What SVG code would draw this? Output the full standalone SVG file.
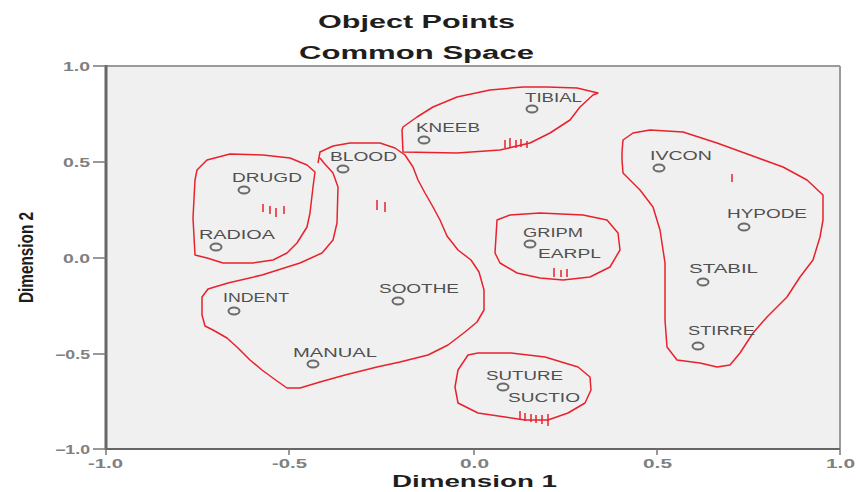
<svg xmlns="http://www.w3.org/2000/svg" width="856" height="492" viewBox="0 0 856 492">
<style>
.title{font-family:"Liberation Sans",Arial,sans-serif;font-weight:bold;font-size:18px;fill:#1e1e1e}
.tick{font-family:"Liberation Sans",Arial,sans-serif;font-weight:bold;font-size:12px;fill:#808080}
.lbl{font-family:"Liberation Sans",Arial,sans-serif;font-size:12px;fill:#505050}
.axl{font-family:"Liberation Sans",Arial,sans-serif;font-weight:bold;font-size:16px;fill:#1e1e1e}
.pt{fill:none;stroke:#6a6a6a;stroke-width:2}
.hull{fill:none;stroke:#e8222c;stroke-width:1.5;stroke-linejoin:round}
.mark{stroke:#e8222c;stroke-width:1.5}
</style>
<rect width="856" height="492" fill="#fff"/>
<g id="plot">
<rect x="106" y="66" width="734" height="383" fill="#f0f0f0"/>
<line x1="106" y1="66" x2="840" y2="66" stroke="#9a9a9a" stroke-width="2"/>
<line x1="840" y1="66" x2="840" y2="449" stroke="#9a9a9a" stroke-width="2"/>
<line x1="106" y1="65" x2="106" y2="450" stroke="#666" stroke-width="3"/>
<line x1="105" y1="449" x2="840" y2="449" stroke="#666" stroke-width="2"/>
<g stroke="#777" stroke-width="1.5">
<line x1="93" y1="66" x2="106" y2="66"/><line x1="93" y1="162" x2="106" y2="162"/><line x1="93" y1="258" x2="106" y2="258"/><line x1="93" y1="354" x2="106" y2="354"/><line x1="93" y1="449" x2="106" y2="449"/>
<line x1="106" y1="449" x2="106" y2="455"/><line x1="289" y1="449" x2="289" y2="455"/><line x1="474" y1="449" x2="474" y2="455"/><line x1="657" y1="449" x2="657" y2="455"/><line x1="840" y1="449" x2="840" y2="455"/>
</g>
<g class="tick">
<text x="63" y="71" textLength="27" lengthAdjust="spacingAndGlyphs">1.0</text>
<text x="63" y="167" textLength="27" lengthAdjust="spacingAndGlyphs">0.5</text>
<text x="63" y="263" textLength="27" lengthAdjust="spacingAndGlyphs">0.0</text>
<text x="55" y="359" textLength="35" lengthAdjust="spacingAndGlyphs">−0.5</text>
<text x="55" y="454" textLength="35" lengthAdjust="spacingAndGlyphs">−1.0</text>
<text x="88" y="468" textLength="35" lengthAdjust="spacingAndGlyphs">-1.0</text>
<text x="272" y="468" textLength="35" lengthAdjust="spacingAndGlyphs">-0.5</text>
<text x="460" y="468" textLength="29" lengthAdjust="spacingAndGlyphs">0.0</text>
<text x="643" y="468" textLength="29" lengthAdjust="spacingAndGlyphs">0.5</text>
<text x="826" y="468" textLength="29" lengthAdjust="spacingAndGlyphs">1.0</text>
</g>
</g>
<g id="titles">
<text class="title" x="318" y="28" textLength="197" lengthAdjust="spacingAndGlyphs">Object Points</text>
<text class="title" x="299" y="59" textLength="235" lengthAdjust="spacingAndGlyphs">Common Space</text>
<text class="axl" x="392" y="487" textLength="165" lengthAdjust="spacingAndGlyphs">Dimension 1</text>
<text class="axl" transform="translate(33,303) scale(1.5,1) rotate(-90)" textLength="91" lengthAdjust="spacingAndGlyphs" style="font-size:14px">Dimension 2</text>
</g>
<g id="connectors">
<path id="hull-drugd" class="hull" d="M197,170 L207,160 L230,154 L263,155 L290,158 L307,165 L315,172 L313,187 L310,213 L307,227 L297,243 L287,253 L273,260 L253,263 L223,263 L207,258 L195,255 L193,218 L195,180 Z"/>
<path id="hull-blood" class="hull" d="M318,163 L320,152 L333,146 L350,143 L380,143 L395,148 L405,155 L413,167 L418,180 L425,193 L433,207 L440,220 L447,236 L458,250 L471,260 L479,272 L484,290 L484,310 L477,322 L465,332 L448,345 L428,355 L400,362 L377,367 L345,375 L320,382 L300,388 L287,388 L277,381 L262,370 L250,360 L238,348 L227,338 L213,330 L205,326 L202,315 L202,297 L208,289 L228,283 L262,275 L300,263 L322,253 L333,240 L337,223 L338,187 L333,173 L324,163 L320,158"/>
<path id="hull-kneeb" class="hull" d="M402,130 L403,152 L457,153 L500,150 L530,143 L550,133 L570,120 L580,107 L593,95 L598,93 L577,88 L547,87 L523,87 L490,90 L457,97 L433,107 L417,117 L403,127 Z"/>
<path id="hull-gripm" class="hull" d="M497,220 L495,253 L500,263 L517,273 L540,278 L563,280 L590,277 L610,267 L620,250 L618,233 L607,220 L583,215 L540,213 L510,215 Z"/>
<path id="hull-ivcon" class="hull" d="M622,152 L623,140 L633,133 L650,130 L683,132 L717,143 L750,155 L783,167 L807,180 L823,195 L823,220 L820,237 L813,260 L800,277 L787,297 L767,317 L753,333 L740,353 L730,365 L717,367 L700,363 L677,360 L667,347 L665,320 L665,263 L660,230 L653,207 L640,190 L623,173 L622,160 Z"/>
<path id="hull-suture" class="hull" d="M468,355 L458,370 L455,387 L458,403 L478,413 L505,417 L525,420 L548,420 L568,413 L585,403 L591,390 L590,377 L578,367 L545,357 L511,353 L478,353 Z"/>
<g id="marks" class="mark">
<line x1="263" y1="204" x2="263" y2="212"/><line x1="270" y1="206" x2="270" y2="214"/><line x1="276" y1="208" x2="276" y2="217"/><line x1="284" y1="206" x2="284" y2="214"/>
<line x1="377" y1="200" x2="377" y2="210"/><line x1="385" y1="202" x2="385" y2="212"/>
<line x1="505" y1="140" x2="505" y2="148"/><line x1="510" y1="138" x2="510" y2="147"/><line x1="516" y1="140" x2="516" y2="148"/><line x1="521" y1="139" x2="521" y2="147"/><line x1="527" y1="141" x2="527" y2="148"/>
<line x1="554" y1="268" x2="554" y2="277"/><line x1="561" y1="270" x2="561" y2="277"/><line x1="567" y1="269" x2="567" y2="277"/>
<line x1="732" y1="174" x2="732" y2="182"/>
<line x1="520" y1="411" x2="520" y2="420"/><line x1="525" y1="413" x2="525" y2="421"/><line x1="531" y1="414" x2="531" y2="422"/><line x1="536" y1="415" x2="536" y2="423"/><line x1="542" y1="415" x2="542" y2="424"/><line x1="548" y1="414" x2="548" y2="426"/>
</g>
</g>
<g id="node-tibial"><ellipse class="pt" cx="532" cy="109" rx="5.5" ry="3.5"/><text class="lbl" x="525" y="102" textLength="57" lengthAdjust="spacingAndGlyphs">TIBIAL</text></g>
<g id="node-kneeb"><ellipse class="pt" cx="424" cy="140" rx="5.5" ry="3.5"/><text class="lbl" x="416" y="132" textLength="64" lengthAdjust="spacingAndGlyphs">KNEEB</text></g>
<g id="node-blood"><ellipse class="pt" cx="343" cy="169" rx="5.5" ry="3.5"/><text class="lbl" x="330" y="161" textLength="67" lengthAdjust="spacingAndGlyphs">BLOOD</text></g>
<g id="node-drugd"><ellipse class="pt" cx="244" cy="190" rx="5.5" ry="3.5"/><text class="lbl" x="232" y="182" textLength="70" lengthAdjust="spacingAndGlyphs">DRUGD</text></g>
<g id="node-radioa"><ellipse class="pt" cx="216" cy="247" rx="5.5" ry="3.5"/><text class="lbl" x="199" y="239" textLength="76" lengthAdjust="spacingAndGlyphs">RADIOA</text></g>
<g id="node-indent"><ellipse class="pt" cx="234" cy="311" rx="5.5" ry="3.5"/><text class="lbl" x="223" y="302" textLength="66" lengthAdjust="spacingAndGlyphs">INDENT</text></g>
<g id="node-soothe"><ellipse class="pt" cx="398" cy="301" rx="5.5" ry="3.5"/><text class="lbl" x="379" y="293" textLength="80" lengthAdjust="spacingAndGlyphs">SOOTHE</text></g>
<g id="node-manual"><ellipse class="pt" cx="313" cy="364" rx="5.5" ry="3.5"/><text class="lbl" x="293" y="357" textLength="84" lengthAdjust="spacingAndGlyphs">MANUAL</text></g>
<g id="node-gripm"><ellipse class="pt" cx="530" cy="244" rx="5.5" ry="3.5"/><text class="lbl" x="523" y="237" textLength="60" lengthAdjust="spacingAndGlyphs">GRIPM</text></g>
<g id="node-earpl"><text class="lbl" x="538" y="258" textLength="63" lengthAdjust="spacingAndGlyphs">EARPL</text></g>
<g id="node-ivcon"><ellipse class="pt" cx="659" cy="168" rx="5.5" ry="3.5"/><text class="lbl" x="650" y="160" textLength="62" lengthAdjust="spacingAndGlyphs">IVCON</text></g>
<g id="node-hypode"><ellipse class="pt" cx="744" cy="227" rx="5.5" ry="3.5"/><text class="lbl" x="727" y="218" textLength="80" lengthAdjust="spacingAndGlyphs">HYPODE</text></g>
<g id="node-stabil"><ellipse class="pt" cx="703" cy="282" rx="5.5" ry="3.5"/><text class="lbl" x="689" y="273" textLength="69" lengthAdjust="spacingAndGlyphs">STABIL</text></g>
<g id="node-stirre"><ellipse class="pt" cx="698" cy="346" rx="5.5" ry="3.5"/><text class="lbl" x="688" y="335" textLength="67" lengthAdjust="spacingAndGlyphs">STIRRE</text></g>
<g id="node-suture"><ellipse class="pt" cx="503" cy="387" rx="5.5" ry="3.5"/><text class="lbl" x="486" y="380" textLength="77" lengthAdjust="spacingAndGlyphs">SUTURE</text></g>
<g id="node-suctio"><text class="lbl" x="508" y="402" textLength="72" lengthAdjust="spacingAndGlyphs">SUCTIO</text></g>
</svg>
